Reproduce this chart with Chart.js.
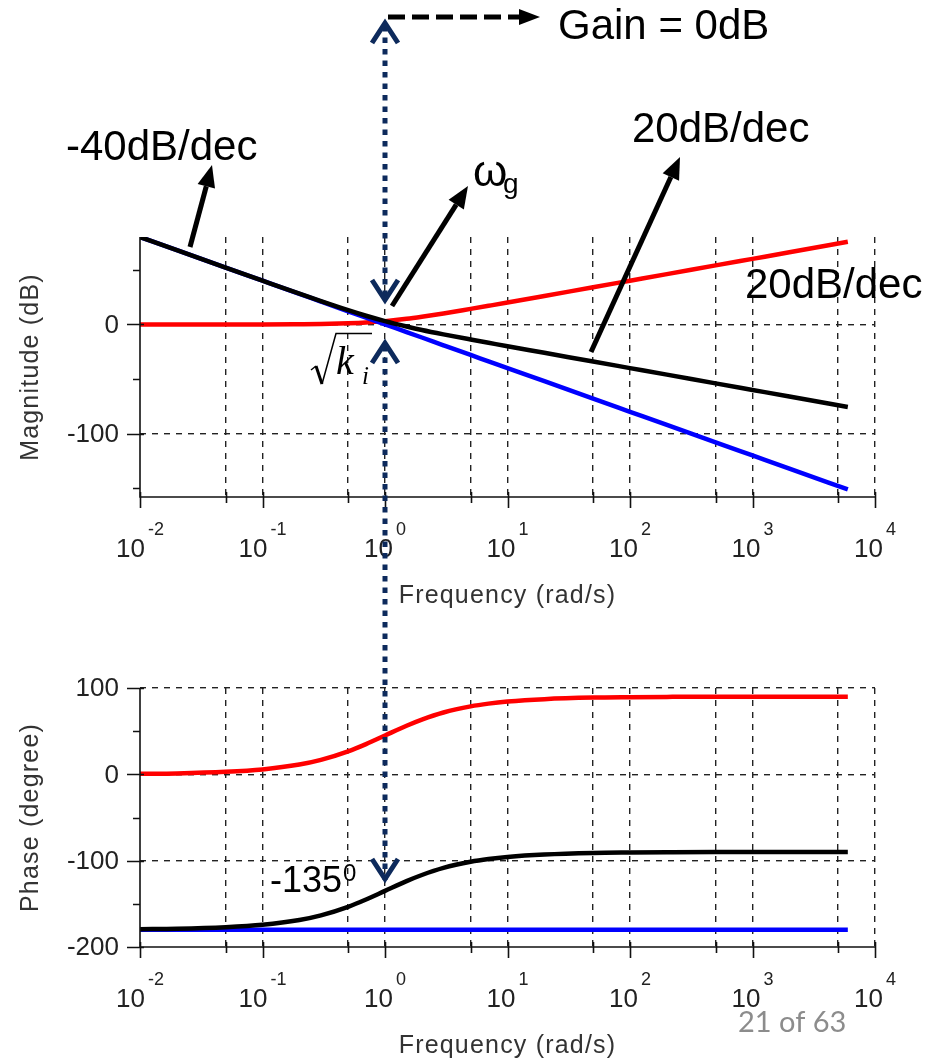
<!DOCTYPE html>
<html>
<head>
<meta charset="utf-8">
<script src="https://cdn.jsdelivr.net/npm/chart.js@4.4.1/dist/chart.umd.min.js"></script>
<style>
  html, body { margin: 0; padding: 0; background: #fff; }
  #page { position: relative; width: 935px; height: 1061px; overflow: hidden; }
  #magWrap { position: absolute; left: 0; top: 0; }
  #phaseWrap { position: absolute; left: 0; top: 620px; }
  #notes { position: absolute; left: 0; top: 0; }
</style>
</head>
<body>
<div id="page">
  <div id="magWrap"><canvas id="magChart" width="935" height="620"></canvas></div>
  <div id="phaseWrap"><canvas id="phaseChart" width="935" height="441"></canvas></div>
  <canvas id="notes" width="935" height="1061"></canvas>
</div>
<script>
// frequency points (rad/s)
const freq = [0.01, 0.02, 0.05, 0.1, 0.2, 0.3, 0.5, 0.7, 1, 1.5, 2, 3, 5, 7, 10, 20, 50, 100, 200, 500, 1000, 2000, 6000];

// magnitude (dB)
const magRed   = [0, 0, 0, 0, 0.2, 0.4, 1, 1.7, 3, 5.1, 7, 10, 14.2, 17, 20, 26, 34, 40, 46, 54, 60, 66, 75.6];
const magBlue  = [80, 68, 52, 40, 28, 20.9, 12, 6.2, 0, -7, -12, -19.1, -28, -33.8, -40, -52, -68, -80, -92, -108, -120, -132, -151.1];
const magBlack = [80, 68, 52, 40, 28.1, 21.3, 13, 7.9, 3, -1.9, -5.1, -9.1, -13.8, -16.8, -20, -26, -34, -40, -46, -54, -60, -66, -75.6];

// phase (degree)
const phaseRed   = [0.6, 1.1, 2.9, 5.7, 11.3, 16.7, 26.6, 35, 45, 56.3, 63.4, 71.6, 78.7, 81.9, 84.3, 87.1, 88.9, 89.4, 89.7, 89.9, 89.9, 90, 90];
const phaseBlue  = [-180, -180, -180, -180, -180, -180, -180, -180, -180, -180, -180, -180, -180, -180, -180, -180, -180, -180, -180, -180, -180, -180, -180];
const phaseBlack = [-179.4, -178.9, -177.1, -174.3, -168.7, -163.3, -153.4, -145, -135, -123.7, -116.6, -108.4, -101.3, -98.1, -95.7, -92.9, -91.1, -90.6, -90.3, -90.1, -90.1, -90, -90];

// axes
const xDecades = [0.01, 0.1, 1, 10, 100, 1000, 10000];
const xDecadeExp = ['-2', '-1', '0', '1', '2', '3', '4'];
const xFives = [0.05, 0.5, 5, 50, 500, 5000];
const magTicks = [-150, -100, -50, 0, 50];
const magLabels = [-100, 0];
const phaseTicks = [-200, -150, -100, -50, 0, 50, 100];
const phaseLabels = [-200, -100, 0, 100];

const FONT = '"Liberation Sans", Arial, sans-serif';
const SERIF = '"Liberation Serif", "Times New Roman", serif';

function pts(ys) {
    return freq.map((f, i) => ({ x: f, y: ys[i] }));
}

function series(ys, color) {
    return {
        data: pts(ys),
        borderColor: color,
        borderWidth: 4.5,
        pointRadius: 0,
        fill: false,
        cubicInterpolationMode: 'monotone'
    };
}

// axis lines, tick marks and labels in the scilab look
const bodeAxes = {
    id: 'bodeAxes',
    afterDraw(chart, args, opts) {
        const ctx = chart.ctx;
        const a = chart.chartArea;
        const xs = chart.scales.x;
        const ys = chart.scales.y;
        ctx.save();
        ctx.strokeStyle = '#111';
        ctx.lineWidth = 1.6;
        ctx.setLineDash([]);
        ctx.beginPath();
        ctx.moveTo(a.left, a.top);
        ctx.lineTo(a.left, a.bottom);
        ctx.lineTo(a.right, a.bottom);
        ctx.stroke();

        // x ticks
        ctx.beginPath();
        xDecades.forEach(v => {
            const px = Math.round(xs.getPixelForValue(v)) + 0.5;
            ctx.moveTo(px, a.bottom - 5);
            ctx.lineTo(px, a.bottom + 11);
        });
        xFives.forEach(v => {
            const px = Math.round(xs.getPixelForValue(v)) + 0.5;
            ctx.moveTo(px, a.bottom - 5);
            ctx.lineTo(px, a.bottom + 6);
        });
        // y ticks
        opts.ticks.forEach(v => {
            const py = Math.round(ys.getPixelForValue(v)) + 0.5;
            if (opts.labels.includes(v)) {
                ctx.moveTo(a.left - 13, py);
                ctx.lineTo(a.left + 4, py);
            } else {
                ctx.moveTo(a.left - 7, py);
                ctx.lineTo(a.left, py);
            }
        });
        ctx.stroke();

        // y labels
        ctx.fillStyle = '#222';
        ctx.font = '26px ' + FONT;
        ctx.textAlign = 'right';
        ctx.textBaseline = 'middle';
        opts.labels.forEach(v => {
            ctx.fillText(String(v), a.left - 21, ys.getPixelForValue(v) + 1);
        });

        // x labels 10^n
        ctx.textBaseline = 'alphabetic';
        ctx.textAlign = 'left';
        xDecades.forEach((v, i) => {
            const px = xs.getPixelForValue(v);
            ctx.font = '26px ' + FONT;
            const w1 = ctx.measureText('10').width;
            ctx.font = '18px ' + FONT;
            const w2 = ctx.measureText(xDecadeExp[i]).width;
            const x0 = px - (w1 + 3 + w2) / 2;
            ctx.font = '26px ' + FONT;
            ctx.fillText('10', x0, a.bottom + 60);
            ctx.font = '18px ' + FONT;
            ctx.fillText(xDecadeExp[i], x0 + w1 + 3, a.bottom + 38);
        });

        // titles
        ctx.fillStyle = '#333';
        ctx.font = '25px ' + FONT;
        ctx.letterSpacing = '1.2px';
        ctx.textAlign = 'center';
        ctx.textBaseline = 'middle';
        ctx.fillText('Frequency (rad/s)', (a.left + a.right) / 2, a.bottom + 99);
        ctx.translate(31, (a.top + a.bottom) / 2);
        ctx.rotate(-Math.PI / 2);
        ctx.fillText(opts.yTitle, 0, 0);
        ctx.restore();
    }
};

function freqScale() {
    return {
        type: 'logarithmic',
        min: 0.01,
        max: 10000,
        afterBuildTicks: (scale) => {
            scale.ticks = xDecades.concat(xFives).sort((p, q) => p - q).map(v => ({ value: v }));
        },
        ticks: { display: false },
        grid: {
            drawTicks: false,
            lineWidth: 1.4,
            color: (c) => (c.tick && c.tick.value === 0.01) ? 'rgba(0,0,0,0)' : '#222'
        },
        border: { display: false, dash: [6, 6] }
    };
}

function valueScale(min, max, ticks, labels) {
    return {
        min: min,
        max: max,
        afterBuildTicks: (scale) => {
            scale.ticks = ticks.map(v => ({ value: v }));
        },
        ticks: { display: false },
        grid: {
            drawTicks: false,
            lineWidth: 1.4,
            color: (c) => (c.tick && labels.includes(c.tick.value) && c.tick.value !== min) ? '#222' : 'rgba(0,0,0,0)'
        },
        border: { display: false, dash: [6, 6] }
    };
}

const magChart = new Chart(document.getElementById('magChart'), {
    type: 'line',
    data: {
        datasets: [
            series(magBlack, '#000000'),
            series(magBlue, '#0000ff'),
            series(magRed, '#ff0000')
        ]
    },
    options: {
        responsive: false,
        animation: false,
        layout: { padding: { left: 140, right: 60, top: 237, bottom: 123 } },
        plugins: {
            legend: { display: false },
            tooltip: { enabled: false },
            bodeAxes: { ticks: magTicks, labels: magLabels, yTitle: 'Magnitude (dB)' }
        },
        scales: {
            x: freqScale(),
            y: valueScale(-158, 80, magTicks, magLabels)
        }
    },
    plugins: [bodeAxes]
});

const phaseChart = new Chart(document.getElementById('phaseChart'), {
    type: 'line',
    data: {
        datasets: [
            series(phaseBlack, '#000000'),
            series(phaseBlue, '#0000ff'),
            series(phaseRed, '#ff0000')
        ]
    },
    options: {
        responsive: false,
        animation: false,
        layout: { padding: { left: 140, right: 60, top: 68, bottom: 114 } },
        plugins: {
            legend: { display: false },
            tooltip: { enabled: false },
            bodeAxes: { ticks: phaseTicks, labels: phaseLabels, yTitle: 'Phase (degree)' }
        },
        scales: {
            x: freqScale(),
            y: valueScale(-200, 100, phaseTicks, phaseLabels)
        }
    },
    plugins: [bodeAxes]
});

// annotations on top of both plots
const nc = document.getElementById('notes').getContext('2d');
const navy = '#0d2a5c';
const xw = magChart.scales.x.getPixelForValue(1);

function arrow(x1, y1, x2, y2, width, head, half) {
    const ang = Math.atan2(y2 - y1, x2 - x1);
    const bx = x2 - head * Math.cos(ang);
    const by = y2 - head * Math.sin(ang);
    nc.save();
    nc.strokeStyle = '#000';
    nc.fillStyle = '#000';
    nc.lineWidth = width;
    nc.beginPath();
    nc.moveTo(x1, y1);
    nc.lineTo(bx, by);
    nc.stroke();
    nc.beginPath();
    nc.moveTo(x2, y2);
    nc.lineTo(bx + half * Math.sin(ang), by - half * Math.cos(ang));
    nc.lineTo(bx - half * Math.sin(ang), by + half * Math.cos(ang));
    nc.closePath();
    nc.fill();
    nc.restore();
}

function chevron(x, tipY, dir) {
    nc.save();
    nc.strokeStyle = navy;
    nc.lineWidth = 5;
    nc.lineJoin = 'miter';
    nc.beginPath();
    nc.moveTo(x - 13, tipY + dir * 23);
    nc.lineTo(x, tipY + dir * 3);
    nc.lineTo(x + 13, tipY + dir * 23);
    nc.stroke();
    nc.restore();
}

function dotted(x, y1, y2) {
    nc.save();
    nc.strokeStyle = navy;
    nc.lineWidth = 5;
    nc.setLineDash([5.5, 6]);
    nc.beginPath();
    nc.moveTo(x, y1);
    nc.lineTo(x, y2);
    nc.stroke();
    nc.restore();
}

dotted(xw, 26, 300);
chevron(xw, 20, 1);
chevron(xw, 303, -1);
dotted(xw, 346, 880);
chevron(xw, 340, 1);
chevron(xw, 882, -1);

// Gain = 0dB dashed pointer
nc.save();
nc.strokeStyle = '#000';
nc.lineWidth = 5;
nc.setLineDash([17, 7]);
nc.beginPath();
nc.moveTo(xw + 3, 17);
nc.lineTo(520, 17);
nc.stroke();
nc.setLineDash([]);
nc.fillStyle = '#000';
nc.beginPath();
nc.moveTo(519, 9);
nc.lineTo(540, 17);
nc.lineTo(519, 25);
nc.closePath();
nc.fill();
nc.restore();

arrow(392, 306, 468, 186, 5, 22, 9);
arrow(591, 352, 680, 157, 5, 22, 9);
arrow(190, 247, 212, 165, 5, 22, 9);

nc.fillStyle = '#000';
nc.textAlign = 'left';
nc.textBaseline = 'alphabetic';
nc.font = '42px ' + FONT;
nc.fillText('Gain = 0dB', 558, 39);
nc.fillText('-40dB/dec', 66, 160);
nc.fillText('20dB/dec', 632, 142);
nc.fillText('20dB/dec', 745, 298);
nc.font = '44px ' + FONT;
nc.fillText('\u03c9', 473, 186);
nc.font = '28px ' + FONT;
nc.fillText('g', 503, 193);
nc.font = '36px ' + FONT;
nc.fillText('-135', 270, 892);
nc.font = '24px ' + FONT;
nc.fillText('0', 343, 881);

// sqrt(k_i): radical sign with vinculum, then italic k with subscript i
nc.save();
nc.strokeStyle = '#000';
nc.lineJoin = 'miter';
nc.lineWidth = 1.5;
nc.beginPath();
nc.moveTo(311, 370);
nc.lineTo(316, 366);
nc.stroke();
nc.lineWidth = 3;
nc.beginPath();
nc.moveTo(316, 366);
nc.lineTo(322, 384);
nc.stroke();
nc.lineWidth = 1.5;
nc.beginPath();
nc.moveTo(322, 384);
nc.lineTo(336, 333.5);
nc.lineTo(372, 333.5);
nc.stroke();
nc.restore();
nc.font = 'italic 40px ' + SERIF;
nc.fillText('k', 336, 374);
nc.font = 'italic 25px ' + SERIF;
nc.fillText('i', 362, 384);

// slide footer
nc.fillStyle = '#8c8c8c';
nc.font = '29px Lato, "Open Sans", sans-serif';
nc.fillText('21 of 63', 738, 1032);
</script>
</body>
</html>
